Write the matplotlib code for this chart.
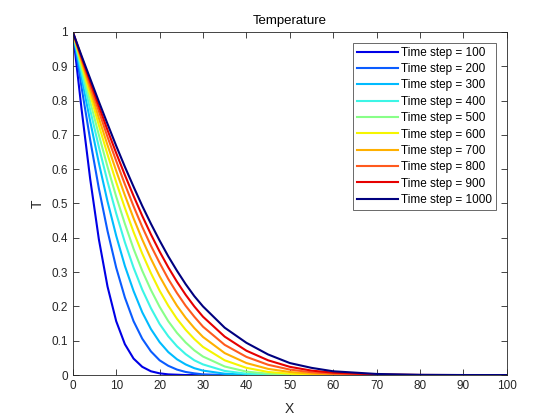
import numpy as np
import matplotlib
matplotlib.use("Agg")
import matplotlib.pyplot as plt

plt.rcParams['font.family'] = ['Liberation Sans', 'DejaVu Sans']

x = [0, 2, 4, 6, 8, 10, 12, 14, 16, 18, 20, 22, 24, 26, 28, 30,
     35, 40, 45, 50, 55, 60, 70, 80, 90, 100]

steps = [100, 200, 300, 400, 500, 600, 700, 800, 900, 1000]

T100 = [1.0, .777, .572, .396, .258, .157, .090, .048, .024, .011, .005, .002, .001, 0, 0, 0,
        0, 0, 0, 0, 0, 0, 0, 0, 0, 0]
T200 = [1.0, .840, .686, .544, .420, .313, .226, .157, .106, .069, .043, .027, .016, .009, .005, .002,
        .0004, 0, 0, 0, 0, 0, 0, 0, 0, 0]
T300 = [1.0, .868, .740, .618, .506, .406, .318, .245, .183, .134, .096, .067, .046, .031, .020, .013,
        .004, .001, 0, 0, 0, 0, 0, 0, 0, 0]
T400 = [1.0, .885, .773, .665, .564, .471, .387, .313, .249, .195, .149, .113, .084, .061, .043, .031,
        .012, .004, .001, .0003, .0001, 0, 0, 0, 0, 0]
T500 = [1.0, .898, .797, .700, .607, .520, .441, .368, .304, .248, .199, .157, .123, .095, .072, .054,
        .025, .010, .004, .001, .0004, .0001, 0, 0, 0, 0]
T600 = [1.0, .908, .817, .728, .643, .562, .487, .417, .354, .297, .246, .202, .164, .132, .105, .082,
        .043, .021, .009, .004, .0015, .0005, .0001, 0, 0, 0]
T700 = [1.0, .916, .832, .749, .670, .595, .524, .457, .395, .339, .288, .243, .202, .167, .137, .111,
        .064, .035, .018, .009, .004, .0017, .0002, 0, 0, 0]
T800 = [1.0, .922, .844, .769, .694, .624, .556, .492, .432, .377, .327, .280, .239, .202, .170, .141,
        .088, .053, .030, .016, .008, .004, .0007, .0001, 0, 0]
T900 = [1.0, .927, .855, .784, .714, .647, .583, .522, .464, .410, .360, .314, .272, .234, .200, .170,
        .112, .071, .043, .024, .013, .007, .0016, .0003, 0, 0]
T1000 = [1.0, .931, .864, .797, .732, .668, .607, .549, .493, .441, .392, .346, .304, .265, .230, .200,
         .138, .094, .060, .035, .021, .011, .0032, .0007, .0001, 0]

curves = [T100, T200, T300, T400, T500, T600, T700, T800, T900, T1000]
colors = ['#0000e6', '#0a5cff', '#00bbff', '#3cf5e6', '#88ff88',
          '#f5f500', '#ffb000', '#ff5a1e', '#e60000', '#00007f']

fig = plt.figure(figsize=(5.6, 4.2), dpi=100)
ax = fig.add_axes([0.13, 0.107, 0.775, 0.817])

for s, T, c in zip(steps, curves, colors):
    ax.plot(x, T, color=c, lw=1.5, label='Time step = %d' % s)

ax.set_xlim(0, 100)
ax.set_ylim(0, 1)
ax.set_xticks(np.arange(0, 101, 10))
ax.set_yticks(np.arange(0, 1.01, 0.1))
ax.set_yticklabels(['0', '0.1', '0.2', '0.3', '0.4', '0.5', '0.6', '0.7', '0.8', '0.9', '1'])
ax.tick_params(direction='in', top=True, right=True, labelsize=8.5, colors='#262626',
               length=4, width=0.6)
for sp in ax.spines.values():
    sp.set_color('#262626')
    sp.set_linewidth(0.6)

ax.set_xlabel('X', fontsize=10, color='#262626', labelpad=7)
ax.set_ylabel('T', fontsize=10, color='#262626', labelpad=5)
ax.set_title('Temperature', fontsize=9.5, color='#000000', pad=6)

leg = ax.legend(loc='upper right', fontsize=8.5, frameon=True, fancybox=False,
                handlelength=3.4, labelspacing=0.37, borderaxespad=0.9,
                handletextpad=0.3, borderpad=0.35)
leg.get_frame().set_edgecolor('#262626')
leg.get_frame().set_linewidth(0.6)

fig.savefig('out.png', dpi=100)
